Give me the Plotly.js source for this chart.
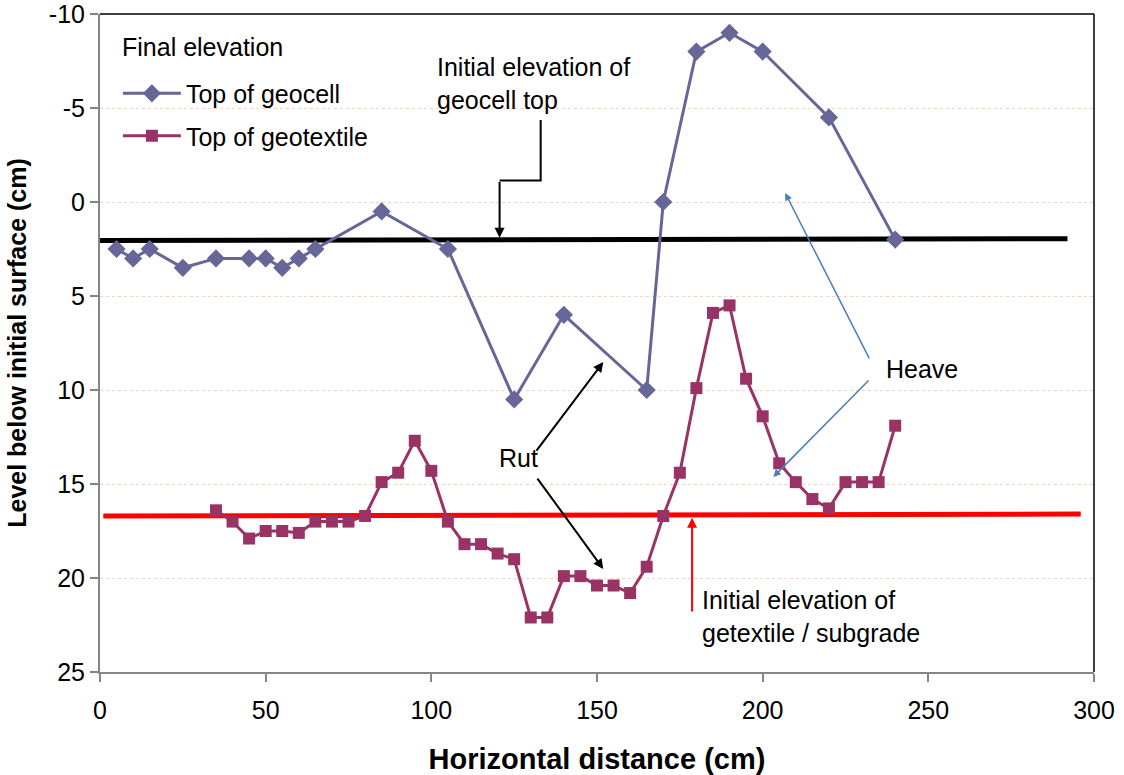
<!DOCTYPE html>
<html>
<head>
<meta charset="utf-8">
<script src="https://cdn.plot.ly/plotly-3.0.1.min.js"></script>
<style>html,body{margin:0;padding:0;background:#fff;}#chart{width:1124px;height:775px;}</style>
</head>
<body>
<div id="chart"></div>
<script>
// Final elevation: top of geocell
const geocellX = [5, 10, 15, 25, 35, 45, 50, 55, 60, 65, 85, 105, 125, 140, 165, 170, 180, 190, 200, 220, 240];
const geocellY = [2.5, 3.0, 2.5, 3.5, 3.0, 3.0, 3.0, 3.5, 3.0, 2.5, 0.5, 2.5, 10.5, 6.0, 10.0, 0.0, -8.0, -9.0, -8.0, -4.5, 2.0];

// Final elevation: top of geotextile
const geotexX = [35, 40, 45, 50, 55, 60, 65, 70, 75, 80, 85, 90, 95, 100, 105, 110, 115, 120, 125, 130, 135, 140, 145, 150, 155, 160, 165, 170, 175, 180, 185, 190, 195, 200, 205, 210, 215, 220, 225, 230, 235, 240];
const geotexY = [16.4, 17.0, 17.9, 17.5, 17.5, 17.6, 17.0, 17.0, 17.0, 16.7, 14.9, 14.4, 12.7, 14.3, 17.0, 18.2, 18.2, 18.7, 19.0, 22.1, 22.1, 19.9, 19.9, 20.4, 20.4, 20.8, 19.4, 16.7, 14.4, 9.9, 5.9, 5.5, 9.4, 11.4, 13.9, 14.9, 15.8, 16.3, 14.9, 14.9, 14.9, 11.9];

// Initial elevation reference lines
const initGeocellX = [0, 292];
const initGeocellY = [2.05, 1.95];
const initGeotexX = [1, 296];
const initGeotexY = [16.7, 16.6];

// Axis ticks
const xTicks = [0, 50, 100, 150, 200, 250, 300];
const yTicks = [-10, -5, 0, 5, 10, 15, 20, 25];

const FONT = 'Liberation Sans, Arial, sans-serif';
const FS = 25;

const traces = [
  {x: initGeocellX, y: initGeocellY, mode: 'lines', line: {color: '#000000', width: 5}, showlegend: false, hoverinfo: 'skip'},
  {x: initGeotexX, y: initGeotexY, mode: 'lines', line: {color: '#FF0000', width: 5}, showlegend: false, hoverinfo: 'skip'},
  {x: geocellX, y: geocellY, mode: 'lines+markers', name: 'Top of geocell', legendgroup: 'a',
   line: {color: '#666699', width: 3}, marker: {symbol: 'diamond', size: 14, color: '#666699'}},
  {x: geotexX, y: geotexY, mode: 'lines+markers', name: 'Top of geotextile', legendgroup: 'b',
   line: {color: '#993366', width: 3}, marker: {symbol: 'square', size: 12, color: '#993366'}}
];

const tf = {family: FONT, size: FS, color: '#000'};

function arrow(x, y, ax, ay, color, w) {
  return {x: x, y: y, ax: ax, ay: ay, xref: 'x', yref: 'y', axref: 'x', ayref: 'y', text: '',
          showarrow: true, arrowhead: 2, arrowsize: 1, arrowwidth: w, arrowcolor: color, standoff: 0, startstandoff: 0};
}

const layout = {
  width: 1124, height: 775,
  margin: {l: 99.5, r: 30, t: 14, b: 103},
  paper_bgcolor: '#ffffff', plot_bgcolor: '#ffffff',
  font: {family: FONT, size: FS, color: '#000'},
  showlegend: true,
  legend: {
    x: 0.018, y: 0.914, xanchor: 'left', yanchor: 'top',
    bgcolor: 'rgba(255,255,255,0)', borderwidth: 0,
    font: {family: FONT, size: FS, color: '#000'},
    itemwidth: 58,
    traceorder: 'grouped', tracegroupgap: 7
  },
  xaxis: {
    range: [0, 300], tickvals: xTicks, ticktext: xTicks.map(String),
    showgrid: false, zeroline: false,
    showline: true, linecolor: '#868686', linewidth: 2,
    ticks: 'outside', ticklen: 8, tickcolor: '#868686', tickwidth: 2,
    ticklabeloverflow: 'allow', ticklabelstandoff: 7,
    tickfont: {family: FONT, size: FS, color: '#000'},
    title: {text: 'Horizontal distance (cm)', font: {family: FONT, size: 29, color: '#000', weight: 'bold'}, standoff: 28}
  },
  yaxis: {
    range: [25, -10], tickvals: yTicks, ticktext: yTicks.map(String),
    showgrid: true, gridcolor: '#F9D3B3', griddash: 'dot', gridwidth: 1,
    zeroline: false,
    showline: true, linecolor: '#868686', linewidth: 2,
    ticks: 'outside', ticklen: 8, tickcolor: '#868686', tickwidth: 2,
    ticklabeloverflow: 'allow',
    tickfont: {family: FONT, size: FS, color: '#000'},
    title: {text: 'Level below initial surface (cm)', font: {family: FONT, size: 25, color: '#000', weight: 'bold'}, standoff: 15}
  },
  shapes: [
    {type: 'line', xref: 'paper', yref: 'paper', x0: 0, x1: 1, y0: 1, y1: 1, line: {color: '#000', width: 1.5}},
    {type: 'line', xref: 'paper', yref: 'paper', x0: 1, x1: 1, y0: 0, y1: 1, line: {color: '#000', width: 1.5}},
    {type: 'path', xref: 'x', yref: 'y', path: 'M 133,-4.36 L 133,-1.15 L 120.6,-1.15', line: {color: '#000', width: 2}}
  ],
  annotations: [
    {x: (120 - 99.5) / 994.5, y: 1 - (47 - 14) / 658, xref: 'paper', yref: 'paper', text: 'Final elevation',
     showarrow: false, font: tf, xanchor: 'left', yanchor: 'middle'},
    {x: 101.2, y: -6.28, xref: 'x', yref: 'y', text: 'Initial elevation of<br>geocell top', showarrow: false,
     xanchor: 'left', yanchor: 'middle', align: 'left', font: tf},
    {x: 126.2, y: 13.6, xref: 'x', yref: 'y', text: 'Rut', showarrow: false, xanchor: 'center', yanchor: 'middle', font: tf},
    {x: 236.7, y: 8.88, xref: 'x', yref: 'y', text: 'Heave', showarrow: false, xanchor: 'left', yanchor: 'middle', font: tf},
    {x: 181.1, y: 22.05, xref: 'x', yref: 'y', text: 'Initial elevation of<br>getextile / subgrade', showarrow: false,
     xanchor: 'left', yanchor: 'middle', align: 'left', font: tf},
    arrow(120.6, 1.9, 120.6, -1.15, '#000', 2),
    arrow(151.9, 8.51, 131.4, 13.3, '#000', 2),
    arrow(151.9, 19.52, 131.7, 14.63, '#000', 2),
    arrow(206.8, -0.48, 232.4, 8.40, '#4A7EBB', 1.5),
    arrow(203.2, 14.63, 232.4, 9.41, '#4A7EBB', 1.5),
    arrow(178.7, 16.8, 178.7, 21.86, '#FF0000', 2)
  ]
};

Plotly.newPlot('chart', traces, layout, {displayModeBar: false, staticPlot: true});
</script>
</body>
</html>
